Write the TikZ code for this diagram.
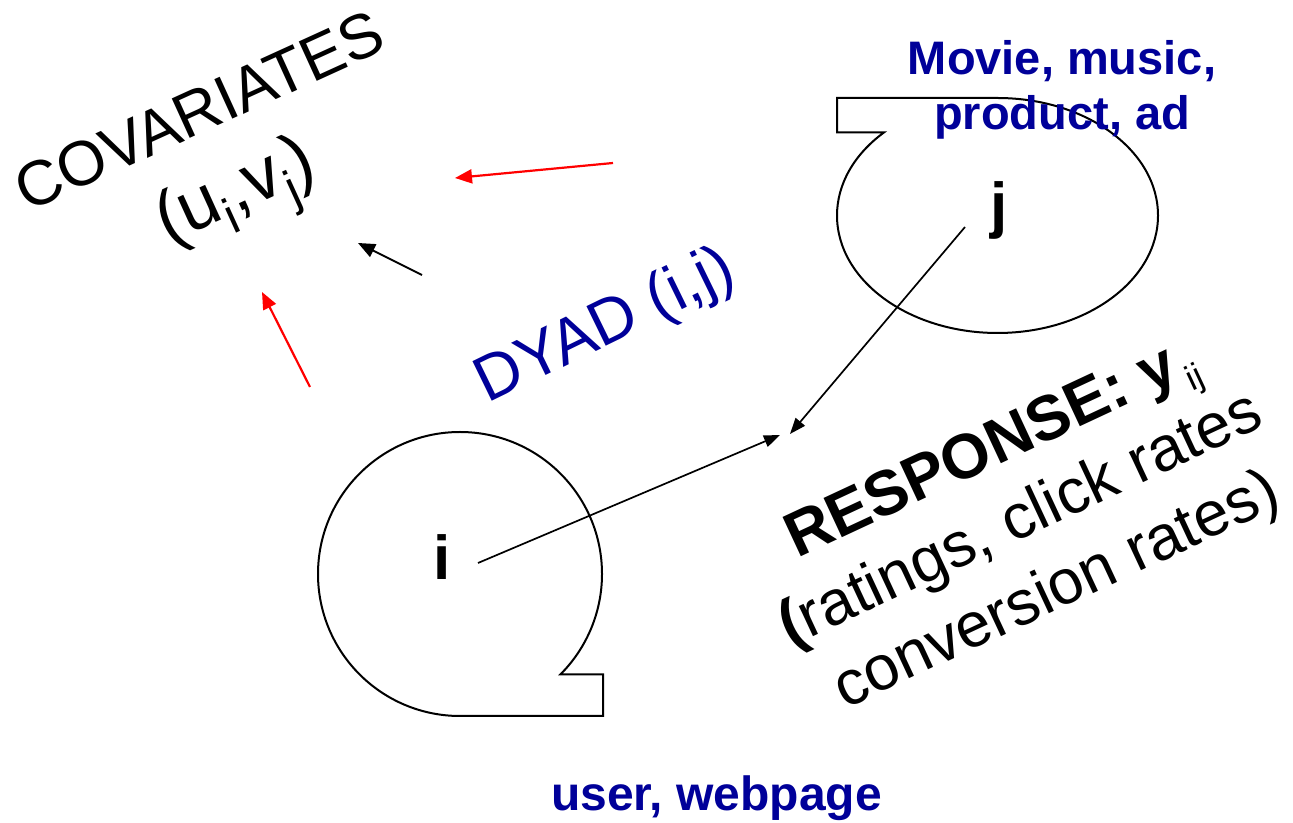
\documentclass[tikz,border=0pt]{standalone}
\usepackage{fontspec}
\setmainfont{Liberation Sans}
\usetikzlibrary{arrows.meta}
\definecolor{dblue}{RGB}{0,0,153}
\newcommand{\fsz}[1]{\fontsize{#1}{#1}\selectfont}
\newcommand{\lowsub}[3]{\raisebox{-#2pt}{\fsz{#1}#3}}
\begin{document}
\begin{tikzpicture}[x=1pt,y=1pt,
  lbl/.style={inner sep=0pt, outer sep=0pt},
  blob/.style={draw=black, line width=2pt, line join=miter},
  conn/.style={draw=black, line width=1.7pt, -{Triangle[length=16pt,width=12pt]}},
  redarr/.style={draw=red, line width=2.2pt, -{Triangle[length=17pt,width=14pt]}},
  blkarr/.style={draw=black, line width=1.9pt, -{Triangle[length=17pt,width=14pt]}},
]
\useasboundingbox (0,0) rectangle (1293,822);

% blobs
\draw[blob] (460,106) arc[start angle=270, end angle=-45, radius=142]
  -- ++(42.6,0) -- (603,106) -- cycle;
\draw[blob] (997.5,724) arc[start angle=90, end angle=-225, x radius=160.5, y radius=117.5]
  -- ++(-47,0) -- (837,724) -- cycle;

% labels
\node[lbl, font=\fsz{63}, rotate=24.5, anchor=base] (cov1) at (208,691.4) {COVARIATES};
\node[lbl, font=\fsz{72}, rotate=24.5, anchor=base] (cov2) at (243.7,611.8)
  {(u\lowsub{50}{18}{i},v\lowsub{50}{18}{j})};
\node[lbl, font=\fsz{64}, text=dblue, rotate=26, anchor=base west] (dyad) at (487.5,418) {DYAD (i,j)};
\node[lbl, font=\bfseries\fsz{47}, text=dblue, anchor=base] (movie1) at (1062,747) {Movie, music,};
\node[lbl, font=\bfseries\fsz{47}, text=dblue, anchor=base] (movie2) at (1062,692) {product, ad};
\node[lbl, font=\bfseries\fsz{48}, text=dblue, anchor=base] (user) at (716.5,12) {user, webpage};
\node[lbl, font=\bfseries\fsz{62}, anchor=base] (ilab) at (442,242) {i};
\node[lbl, font=\bfseries\fsz{62}, anchor=base] (jlab) at (999,595) {j};
\node[lbl, font=\fsz{63}, rotate=25, anchor=base west] (resp1) at (797.5,263.4)
  {\bfseries RESPONSE: y\mdseries\kern5pt\lowsub{35}{15}{ij}};
\node[lbl, font=\fsz{63}, rotate=25, anchor=base west] (resp2) at (790.3,175)
  {{\bfseries(}ratings, click rates};
\node[lbl, font=\fsz{63}, rotate=25, anchor=base west] (resp3) at (845.3,112.9)
  {conversion rates)};

% arrow end points
\coordinate (r1s) at (613,659); \coordinate (r1e) at (455,644);
\coordinate (bks) at (422,547); \coordinate (bke) at (358,579);
\coordinate (r2s) at (310,435); \coordinate (r2e) at (262,530);
\coordinate (istart) at (478,259); \coordinate (iend) at (780,387);
\coordinate (jstart) at (965,595); \coordinate (jend) at (790,388);

\draw[redarr] (r1s) -- (r1e);
\draw[blkarr] (bks) -- (bke);
\draw[redarr] (r2s) -- (r2e);
\draw[conn] (istart) -- (iend);
\draw[conn] (jstart) -- (jend);
\end{tikzpicture}
\end{document}
